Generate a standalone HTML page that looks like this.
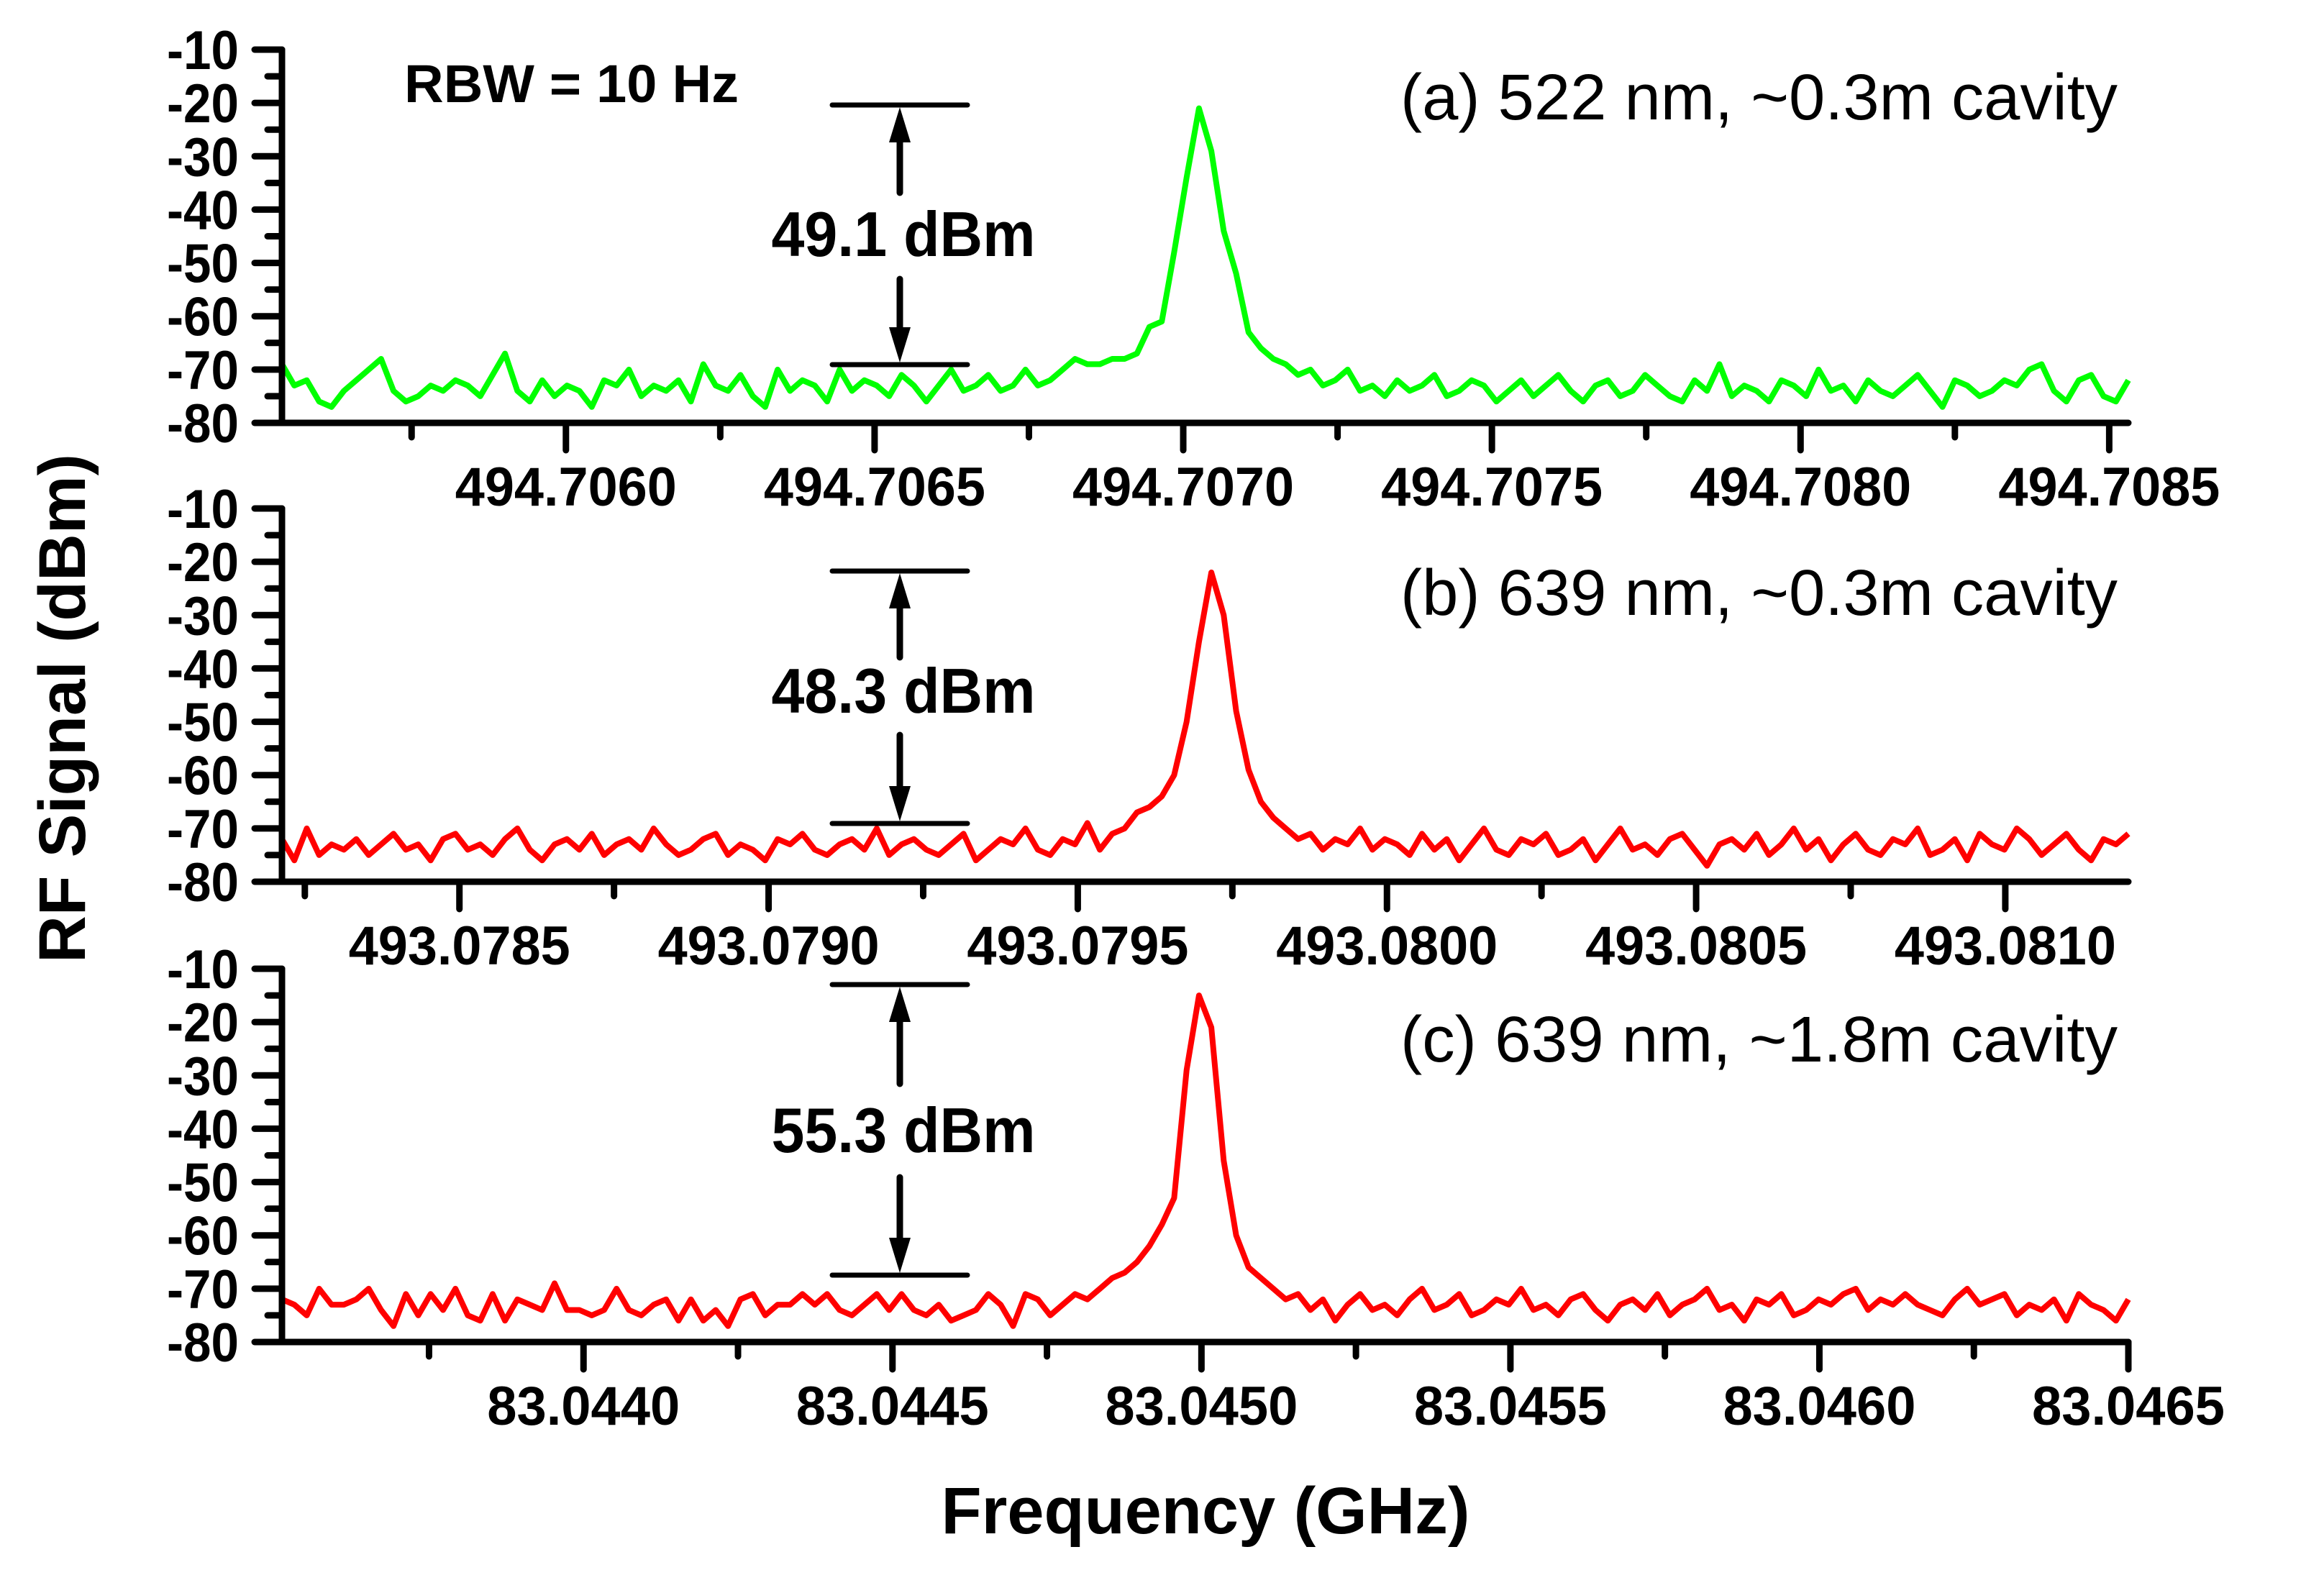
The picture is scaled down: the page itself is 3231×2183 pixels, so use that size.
<!DOCTYPE html>
<html><head><meta charset="utf-8"><style>
html,body{margin:0;padding:0;background:#fff;}
svg{display:block;}
text{font-family:"Liberation Sans",Arial,sans-serif;}
</style></head><body>
<svg id="chart" width="3231" height="2183" viewBox="0 0 3231 2183" xmlns="http://www.w3.org/2000/svg">
<text x="0" y="0" transform="translate(118,985) rotate(-90)" text-anchor="middle" font-size="92" font-weight="bold" textLength="708" lengthAdjust="spacingAndGlyphs">RF Signal (dBm)</text>
<text x="1676" y="2132" text-anchor="middle" font-size="92" font-weight="bold" textLength="735" lengthAdjust="spacingAndGlyphs">Frequency (GHz)</text>
<text x="562" y="142" font-size="74" font-weight="bold" textLength="465" lengthAdjust="spacingAndGlyphs">RBW = 10 Hz</text>
<g id="plots"></g>
</svg>
<script>
// Panel (a) data
const freqRangeA = [494.70554, 494.708531];
const xTicksA = [494.7060, 494.7065, 494.7070, 494.7075, 494.7080, 494.7085];
const xTickLabelsA = ["494.7060","494.7065","494.7070","494.7075","494.7080","494.7085"];
const signalA = [-69,-73,-72,-76,-77,-74,-72,-70,-68,-74,
-76,-75,-73,-74,-72,-73,-75,-71,-67,-74,
-76,-72,-75,-73,-74,-77,-72,-73,-70,-75,
-73,-74,-72,-76,-69,-73,-74,-71,-75,-77,
-70,-74,-72,-73,-76,-70,-74,-72,-73,-75,
-71,-73,-76,-73,-70,-74,-73,-71,-74,-73,
-70,-73,-72,-70,-68,-69,-69,-68,-68,-67,
-62,-61,-48,-34,-21,-29,-44,-52,-63,-66,
-68,-69,-71,-70,-73,-72,-70,-74,-73,-75,
-72,-74,-73,-71,-75,-74,-72,-73,-76,-74,
-72,-75,-73,-71,-74,-76,-73,-72,-75,-74,
-71,-73,-75,-76,-72,-74,-69,-75,-73,-74,
-76,-72,-73,-75,-70,-74,-73,-76,-72,-74,
-75,-73,-71,-74,-77,-72,-73,-75,-74,-72,
-73,-70,-69,-74,-76,-72,-71,-75,-76,-72];
// Panel (b) data
const freqRangeB = [493.078213, 493.081199];
const xTicksB = [493.0785, 493.0790, 493.0795, 493.0800, 493.0805, 493.0810];
const xTickLabelsB = ["493.0785","493.0790","493.0795","493.0800","493.0805","493.0810"];
const signalB = [-72,-76,-70,-75,-73,-74,-72,-75,-73,-71,
-74,-73,-76,-72,-71,-74,-73,-75,-72,-70,
-74,-76,-73,-72,-74,-71,-75,-73,-72,-74,
-70,-73,-75,-74,-72,-71,-75,-73,-74,-76,
-72,-73,-71,-74,-75,-73,-72,-74,-70,-75,
-73,-72,-74,-75,-73,-71,-76,-74,-72,-73,
-70,-74,-75,-72,-73,-69,-74,-71,-70,-67,
-66,-64,-60,-50,-35,-22,-30,-48,-59,-65,
-68,-70,-72,-71,-74,-72,-73,-70,-74,-72,
-73,-75,-71,-74,-72,-76,-73,-70,-74,-75,
-72,-73,-71,-75,-74,-72,-76,-73,-70,-74,
-73,-75,-72,-71,-74,-77,-73,-72,-74,-71,
-75,-73,-70,-74,-72,-76,-73,-71,-74,-75,
-72,-73,-70,-75,-74,-72,-76,-71,-73,-74,
-70,-72,-75,-73,-71,-74,-76,-72,-73,-71];
// Panel (c) data
const freqRangeC = [83.043512, 83.0465];
const xTicksC = [83.0440, 83.0445, 83.0450, 83.0455, 83.0460, 83.0465];
const xTickLabelsC = ["83.0440","83.0445","83.0450","83.0455","83.0460","83.0465"];
const signalC = [-72,-73,-75,-70,-73,-73,-72,-70,-74,-77,
-71,-75,-71,-74,-70,-75,-76,-71,-76,-72,
-73,-74,-69,-74,-74,-75,-74,-70,-74,-75,
-73,-72,-76,-72,-76,-74,-77,-72,-71,-75,
-73,-73,-71,-73,-71,-74,-75,-73,-71,-74,
-71,-74,-75,-73,-76,-75,-74,-71,-73,-77,
-71,-72,-75,-73,-71,-72,-70,-68,-67,-65,
-62,-58,-53,-29,-15,-21,-46,-60,-66,-68,
-70,-72,-71,-74,-72,-76,-73,-71,-74,-73,
-75,-72,-70,-74,-73,-71,-75,-74,-72,-73,
-70,-74,-73,-75,-72,-71,-74,-76,-73,-72,
-74,-71,-75,-73,-72,-70,-74,-73,-76,-72,
-73,-71,-75,-74,-72,-73,-71,-70,-74,-72,
-73,-71,-73,-74,-75,-72,-70,-73,-72,-71,
-75,-73,-74,-72,-76,-71,-73,-74,-76,-72];
const yTicks = [-10,-20,-30,-40,-50,-60,-70,-80];
const titles = ["(a) 522 nm, ~0.3m cavity","(b) 639 nm, ~0.3m cavity","(c) 639 nm, ~1.8m cavity"];
const diffLabels = ["49.1 dBm","48.3 dBm","55.3 dBm"];

const NS = "http://www.w3.org/2000/svg";
const root = document.getElementById('plots');
function mk(tag, attrs, parent){
  const e = document.createElementNS(NS, tag);
  for (const k in attrs) e.setAttribute(k, attrs[k]);
  (parent||root).appendChild(e);
  return e;
}
const panels = [
  {key:'a', top:69, range:freqRangeA, ticks:xTicksA, labels:xTickLabelsA, sig:signalA, color:'#00ff00', titleY:166,
   ann:{top:146, bot:507, upEnd:268, downStart:388, textY:356}},
  {key:'b', top:707, range:freqRangeB, ticks:xTicksB, labels:xTickLabelsB, sig:signalB, color:'#ff0000', titleY:855,
   ann:{top:794, bot:1145, upEnd:914, downStart:1022, textY:991}},
  {key:'c', top:1347, range:freqRangeC, ticks:xTicksC, labels:xTickLabelsC, sig:signalC, color:'#ff0000', titleY:1476,
   ann:{top:1369, bot:1773, upEnd:1507, downStart:1637, textY:1602}}
];
const L = 392, R = 2959, H = 519;
panels.forEach((p, pi) => {
  const g = mk('g', {});
  
  
  const bottom = p.top + H;
  const xs = f => L + (f - p.range[0]) / (p.range[1] - p.range[0]) * (R - L);
  const ys = v => p.top + (-10 - v) / 70 * H;
  const n = p.sig.length;
  let d = '';
  p.sig.forEach((v, i) => {
    const f = p.range[0] + i * (p.range[1] - p.range[0]) / (n - 1);
    d += (i ? 'L' : 'M') + xs(f).toFixed(1) + ' ' + ys(v).toFixed(1);
  });
  const line = mk('path', {d: d, fill: 'none', stroke: p.color, 'stroke-width': 8, 'stroke-linejoin': 'round'}, g);
  
  
  const ax = mk('path', {d: `M${L} ${p.top} L${L} ${bottom} L${R} ${bottom}`, fill: 'none', stroke: '#000', 'stroke-width': 9, 'stroke-linecap': 'round'}, g);
  
  
  yTicks.forEach(t => {
    const y = ys(t);
    mk('line', {x1: L - 38, x2: L, y1: y, y2: y, stroke: '#000', 'stroke-width': 9, 'stroke-linecap': 'round'}, g);
    if (t > -80) { const ym = ys(t - 5); mk('line', {x1: L - 20, x2: L, y1: ym, y2: ym, stroke: '#000', 'stroke-width': 9, 'stroke-linecap': 'round'}, g); }
    const lb = mk('text', {x: 332, y: y + 27, 'text-anchor': 'end', 'font-size': 76, 'font-weight': 'bold', textLength: 100, lengthAdjust: 'spacingAndGlyphs'}, g);
    lb.textContent = t;
    
    
  });
  const step = p.ticks[1] - p.ticks[0];
  p.ticks.forEach((t, i) => {
    const x = xs(t);
    mk('line', {x1: x, x2: x, y1: bottom, y2: bottom + 38, stroke: '#000', 'stroke-width': 9, 'stroke-linecap': 'round'}, g);
    const len = p.labels[i].length === 8 ? 308 : 268;
    const lb = mk('text', {x: x, y: bottom + 115, 'text-anchor': 'middle', 'font-size': 76, 'font-weight': 'bold', textLength: len, lengthAdjust: 'spacingAndGlyphs'}, g);
    lb.textContent = p.labels[i];
    
    
  });
  for (let k = -1; k < p.ticks.length; k++) {
    const f = p.ticks[0] + (k + 0.5) * step;
    const x = xs(f);
    if (x > L + 5 && x < R - 5) mk('line', {x1: x, x2: x, y1: bottom, y2: bottom + 20, stroke: '#000', 'stroke-width': 9, 'stroke-linecap': 'round'}, g);
  }
  const tt = mk('text', {x: 2944, y: p.titleY, 'text-anchor': 'end', 'font-size': 90, textLength: 997, lengthAdjust: 'spacingAndGlyphs'}, g);
  tt.textContent = titles[pi];
  
  
  const a = p.ann, ax0 = 1251;
  const ag = mk('g', {}, g);
  
  
  mk('line', {x1: 1157, x2: 1345, y1: a.top, y2: a.top, stroke: '#000', 'stroke-width': 7, 'stroke-linecap': 'round'}, ag);
  mk('line', {x1: 1157, x2: 1345, y1: a.bot, y2: a.bot, stroke: '#000', 'stroke-width': 7, 'stroke-linecap': 'round'}, ag);
  mk('line', {x1: ax0, x2: ax0, y1: a.top + 45, y2: a.upEnd, stroke: '#000', 'stroke-width': 9, 'stroke-linecap': 'round'}, ag);
  mk('polygon', {points: `${ax0},${a.top + 3} ${ax0 - 15},${a.top + 52} ${ax0 + 15},${a.top + 52}`, fill: '#000'}, ag);
  mk('line', {x1: ax0, x2: ax0, y1: a.downStart, y2: a.bot - 45, stroke: '#000', 'stroke-width': 9, 'stroke-linecap': 'round'}, ag);
  mk('polygon', {points: `${ax0},${a.bot - 3} ${ax0 - 15},${a.bot - 52} ${ax0 + 15},${a.bot - 52}`, fill: '#000'}, ag);
  const at = mk('text', {x: ax0 + 5, y: a.textY, 'text-anchor': 'middle', 'font-size': 88, 'font-weight': 'bold', textLength: 367, lengthAdjust: 'spacingAndGlyphs'}, ag);
  at.textContent = diffLabels[pi];
  
  
});
</script>
</body></html>
